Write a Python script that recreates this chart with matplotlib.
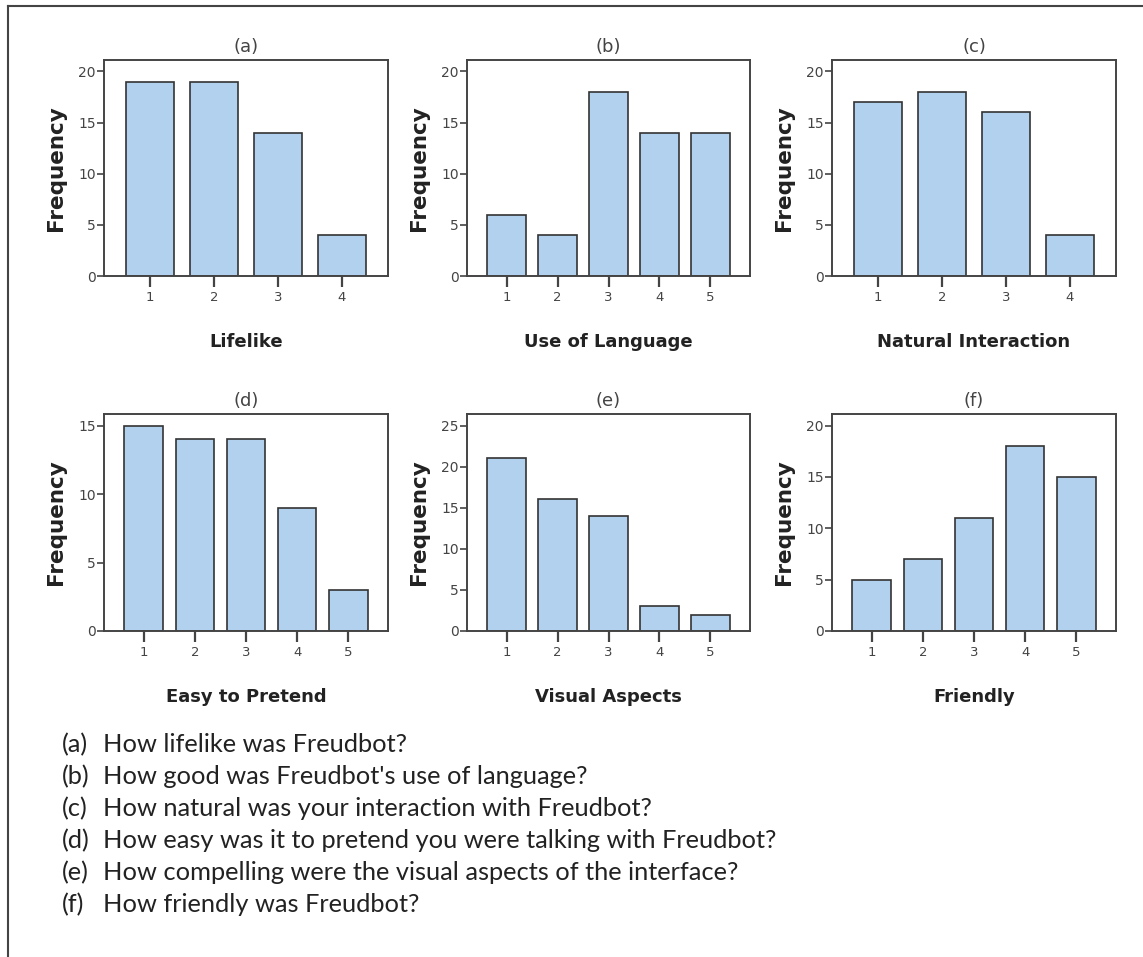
import matplotlib.pyplot as plt
from matplotlib.lines import Line2D

W, H = 1143, 957

# Frequencies per response category
lifelike = [19, 19, 14, 4]
use_of_language = [6, 4, 18, 14, 14]
natural_interaction = [17, 18, 16, 4]
easy_to_pretend = [15, 14, 14, 9, 3]
visual_aspects = [21, 16, 14, 3, 2]
friendly = [5, 7, 11, 18, 15]

panel_data = [lifelike, use_of_language, natural_interaction,
              easy_to_pretend, visual_aspects, friendly]
panel_tags = ["(a)", "(b)", "(c)", "(d)", "(e)", "(f)"]
panel_xlabels = ["Lifelike", "Use of Language", "Natural Interaction",
                 "Easy to Pretend", "Visual Aspects", "Friendly"]
panel_ytop = [20, 20, 20, 15, 25, 20]

questions = [
    "How lifelike was Freudbot?",
    "How good was Freudbot's use of language?",
    "How natural was your interaction with Freudbot?",
    "How easy was it to pretend you were talking with Freudbot?",
    "How compelling were the visual aspects of the interface?",
    "How friendly was Freudbot?",
]

BAR_COLOR = "#B1D1EF"
EDGE = "#333333"
GREY = "#444444"

# axes boxes in pixels: (left, right) and (top, bottom)
cols = [(104, 388), (467, 750), (832, 1116)]
rows = [(60, 276), (414, 631)]

fig = plt.figure(figsize=(W / 100, H / 100), dpi=100)

for k, values in enumerate(panel_data):
    r, c = divmod(k, 3)
    x0, x1 = cols[c]
    y0, y1 = rows[r]
    ax = fig.add_axes([x0 / W, 1 - y1 / H, (x1 - x0) / W, (y1 - y0) / H])
    cats = list(range(1, len(values) + 1))
    ax.bar(cats, values, width=0.76, color=BAR_COLOR, edgecolor=EDGE,
           linewidth=1.2, zorder=2)
    margin = 0.72 if len(values) == 4 else 0.78
    ax.set_xlim(1 - margin, len(values) + margin)
    ax.set_ylim(0, panel_ytop[k] * 1.056)
    ax.set_xticks(cats)
    ax.set_yticks(range(0, panel_ytop[k] + 1, 5))
    ax.tick_params(axis="x", length=8, width=1.6, color=GREY, labelsize=9.5,
                   labelcolor=GREY, pad=3)
    ax.tick_params(axis="y", length=5, width=1.2, color=GREY, labelsize=10,
                   labelcolor=GREY, pad=1)
    for sp in ax.spines.values():
        sp.set_color(GREY)
        sp.set_linewidth(1.4)
    ax.set_title(panel_tags[k], fontsize=13, color=GREY, pad=6)
    ax.set_xlabel(panel_xlabels[k], fontsize=13, fontweight="bold",
                  color="#222222", labelpad=21)
    ax.set_ylabel("Frequency", fontsize=15.5, fontweight="bold",
                  color="#222222", labelpad=8.5)

# caption
for i, (tag, q) in enumerate(zip(panel_tags, questions)):
    y = 1 - (745 + 32 * i) / H
    fig.text(62 / W, y, tag, fontsize=18.3, family="Lato", va="center",
             color="#222222")
    fig.text(103 / W, y, q, fontsize=18.3, family="Lato", va="center",
             color="#222222")

# image frame
fig.add_artist(Line2D([8 / W, 8 / W], [0, 1 - 6 / H], color=GREY, lw=1.5))
fig.add_artist(Line2D([8 / W, 1], [1 - 6 / H, 1 - 6 / H], color=GREY, lw=1.5))

fig.savefig("out.png", dpi=100)
